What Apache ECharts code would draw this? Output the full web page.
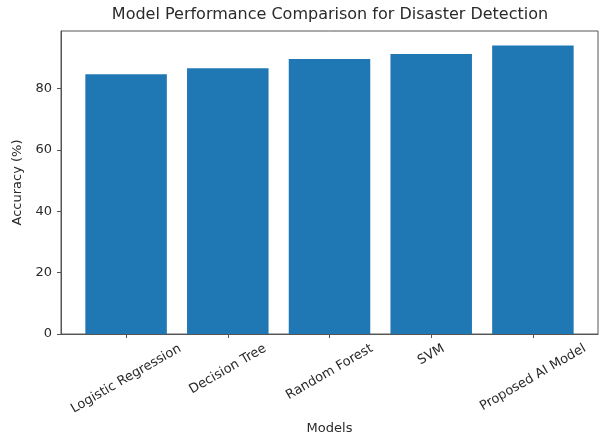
<!DOCTYPE html>
<html>
<head>
<meta charset="utf-8">
<script src="https://cdn.jsdelivr.net/npm/echarts@6/dist/echarts.min.js"></script>
<style>html,body{margin:0;padding:0;background:#fff}#c{width:602px;height:440px}</style>
</head>
<body>
<div id="c"></div>
<script>
const categories = ['Logistic Regression', 'Decision Tree', 'Random Forest', 'SVM', 'Proposed AI Model'];
const accuracy = [84.6, 86.6, 89.6, 91.2, 94.0];
const yTicks = [0, 20, 40, 60, 80];
const titleText = 'Model Performance Comparison for Disaster Detection';
const xName = 'Models';
const yName = 'Accuracy (%)';

const FONT = '"DejaVu Sans", sans-serif';
const TICK_FS = 13;
const TEXT = '#2a2a2a';
const FRAME = '#555555';

// measure label widths to emulate centered rotated labels (top of rotated box below tick)
const cv = document.createElement('canvas').getContext('2d');
cv.font = TICK_FS + 'px ' + FONT;
const h = TICK_FS * 1.17;
const rich = {};
categories.forEach((c, i) => {
  const w = cv.measureText(c).width;
  const d = (w * 0.5 + h * 0.866) / 2;   // screen-down shift of text center
  const b = 0.866 * d, a = 0.5 * d;
  rich['l' + i] = { fontSize: TICK_FS, fontFamily: FONT, color: TEXT, padding: [2 * b, 2 * a, 0, 0] };
});

const xTickVals = categories.map((_, i) => i);
const data = accuracy.map((v, i) => [i, v]);
const yMax = Math.max(...accuracy) * 1.05;

const chart = echarts.init(document.getElementById('c'), null, { renderer: 'canvas' });
chart.setOption({
  animation: false,
  backgroundColor: '#fff',
  title: {
    text: titleText, left: 330, top: 7, padding: 0, textAlign: 'center',
    textStyle: { fontFamily: FONT, fontSize: 16, fontWeight: 'normal', color: TEXT }
  },
  grid: { left: 61, right: 4, top: 31, bottom: 104, show: true, borderColor: FRAME, borderWidth: 1, backgroundColor: 'transparent' },
  xAxis: {
    type: 'value', min: -0.64, max: categories.length - 1 + 0.64,
    name: xName, nameLocation: 'middle', nameGap: 87,
    nameTextStyle: { fontFamily: FONT, fontSize: 13, color: TEXT },
    splitLine: { show: false },
    axisLine: { show: true, onZero: false, lineStyle: { color: FRAME, width: 1 } },
    axisTick: { show: true, customValues: xTickVals, length: 4, lineStyle: { color: FRAME } },
    axisLabel: {
      customValues: xTickVals, rotate: 30, margin: 7, align: 'center', verticalAlign: 'middle',
      fontFamily: FONT, fontSize: TICK_FS, color: TEXT,
      formatter: v => { const i = Math.round(v); return '{l' + i + '|' + categories[i] + '}'; },
      rich: rich
    }
  },
  yAxis: {
    type: 'value', min: 0, max: yMax,
    name: yName, nameLocation: 'middle', nameGap: 30,
    nameTextStyle: { fontFamily: FONT, fontSize: 13, color: TEXT },
    splitLine: { show: false },
    axisLine: { show: true, onZero: false, lineStyle: { color: FRAME, width: 1 } },
    axisTick: { show: true, customValues: yTicks, length: 4, lineStyle: { color: FRAME } },
    axisLabel: { customValues: yTicks, margin: 9, fontFamily: FONT, fontSize: TICK_FS, color: TEXT }
  },
  series: [{
    type: 'bar', data: data, barWidth: 81.5,
    itemStyle: { color: '#1f77b4' }
  }]
});
</script>
</body>
</html>
